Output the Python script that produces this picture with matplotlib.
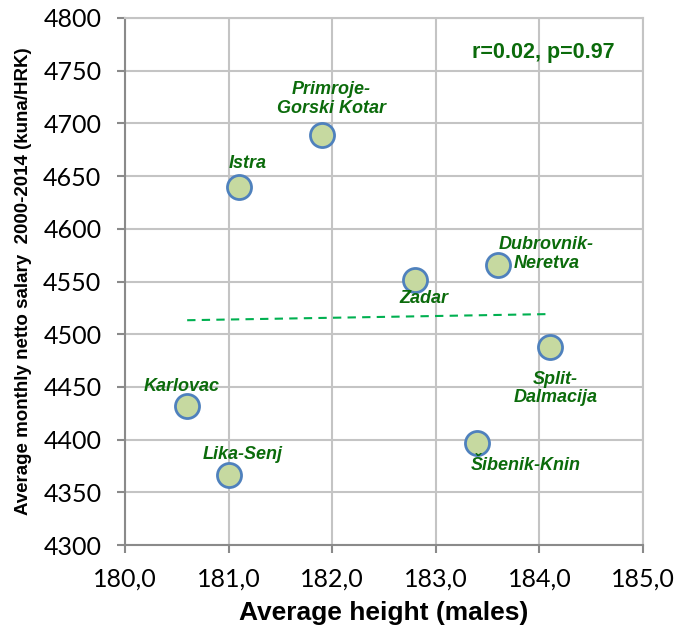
import numpy as np
import matplotlib
matplotlib.use("Agg")
import matplotlib.pyplot as plt
from matplotlib import font_manager

# ---- data ----
regions = ["Karlovac", "Lika-Senj", "Istra", "Primroje-\nGorski Kotar", "Zadar",
           "Dubrovnik-\nNeretva", "Split-\nDalmacija", "Šibenik-Knin"]
height = [180.6, 181.0, 181.1, 181.9, 182.8, 183.6, 184.1, 183.4]
salary = [4432, 4366, 4640, 4689, 4551, 4566, 4488, 4397]
x_ticks = [180, 181, 182, 183, 184, 185]
x_tick_labels = ["180,0", "181,0", "182,0", "183,0", "184,0", "185,0"]
y_ticks = [4300, 4350, 4400, 4450, 4500, 4550, 4600, 4650, 4700, 4750, 4800]
stat_text = "r=0.02, p=0.97"

# label offsets (points) relative to each marker
offsets = [(-4, 14), (10, 15), (6.5, 16.5), (7, 26), (6.5, -13), (35, 8), (4, -30), (35, -16)]

avail = {f.name for f in font_manager.fontManager.ttflist}
narrow = "Liberation Sans Narrow" if "Liberation Sans Narrow" in avail else "Liberation Sans"
tickfont = "Lato" if "Lato" in avail else "DejaVu Sans"

green = "#0b6b0b"
grid_c = "#c4c4c4"
axis_c = "#8a8a8a"

fig = plt.figure(figsize=(6.91, 6.40), dpi=100)
ax = fig.add_axes([0.1809, 0.1484, 0.7496, 0.8235])

ax.set_xlim(180, 185)
ax.set_ylim(4300, 4800)
ax.set_xticks(x_ticks)
ax.set_xticklabels(x_tick_labels)
ax.set_yticks(y_ticks)
ax.grid(True, color=grid_c, linewidth=1.5, zorder=0)
ax.set_axisbelow(True)

for s in ["top", "right"]:
    ax.spines[s].set_color(grid_c)
    ax.spines[s].set_linewidth(1.5)
for s in ["left", "bottom"]:
    ax.spines[s].set_color(axis_c)
    ax.spines[s].set_linewidth(1.5)

ax.tick_params(axis="both", direction="out", length=6, width=1.5, color=axis_c,
               labelsize=18)
ax.tick_params(axis="x", pad=10)
ax.tick_params(axis="y", pad=11)
for lab in ax.get_xticklabels() + ax.get_yticklabels():
    lab.set_fontfamily(tickfont)

# trend line
coef = np.polyfit(height, salary, 1)
xs = np.array([min(height), max(height)])
ax.plot(xs, np.polyval(coef, xs), linestyle=(0, (4, 3)), color="#00b050",
        linewidth=1.5, zorder=2)

ax.scatter(height, salary, s=300, facecolor="#c6d9a0", edgecolor="#4f81bd",
           linewidth=2, zorder=3)

for name, x, y, (dx, dy) in zip(regions, height, salary, offsets):
    ax.annotate(name, (x, y), xytext=(dx, dy), textcoords="offset points",
                ha="center", va="center", fontsize=13, fontweight="bold",
                fontstyle="italic", color=green, family=[narrow, "DejaVu Sans"],
                linespacing=1.15, zorder=4)

ax.text(0.945, 0.935, stat_text, transform=ax.transAxes, ha="right", va="center",
        fontsize=15.5, fontweight="bold", color=green, family=[narrow, "DejaVu Sans"])

ax.set_xlabel("Average height (males)", fontsize=19, fontweight="bold",
              family=[narrow, "DejaVu Sans"], labelpad=8)
ax.set_ylabel("Average monthly netto salary  2000-2014 (kuna/HRK)", fontsize=13.5,
              fontweight="bold", family=[narrow, "DejaVu Sans"], labelpad=8)

fig.savefig("out.png", dpi=100)
